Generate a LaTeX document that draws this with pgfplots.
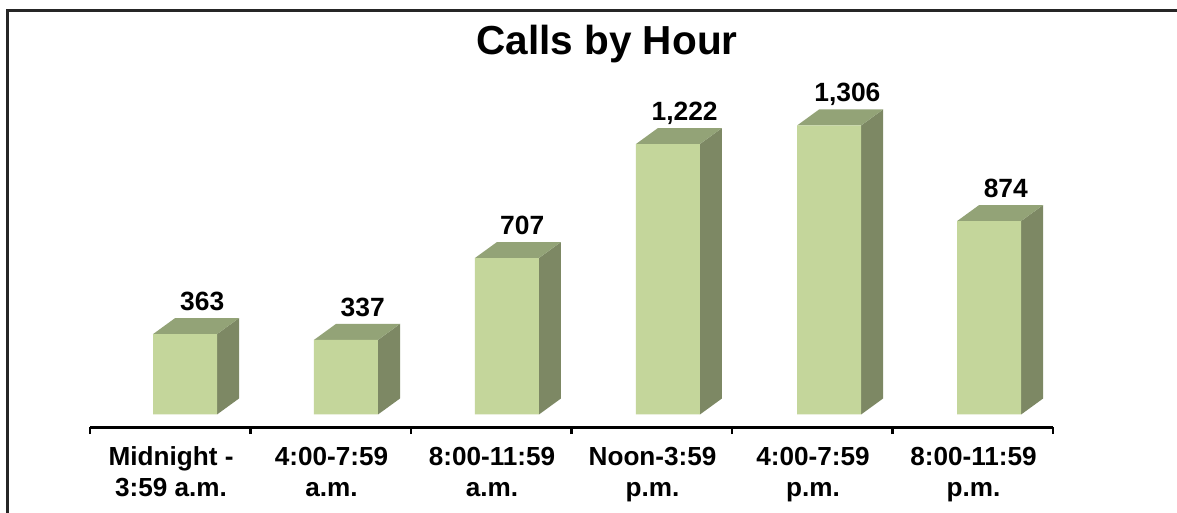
\documentclass[border=0pt]{standalone}
\usepackage{fontspec}
\setmainfont{Liberation Sans}
\usepackage{pgfplots}
\usepackage{pgfplotstable}
\pgfplotsset{compat=1.18}
\definecolor{front}{HTML}{C4D69B}
\definecolor{topf}{HTML}{93A377}
\definecolor{sidef}{HTML}{7D8864}
\definecolor{frameline}{HTML}{262626}
\pgfplotstableread{
x y
0.0919 363
1.095 337
2.098 707
3.101 1222
4.105 1306
5.102 874
}\fronts
\pgfplotstableread{
x y label
0.1990 435.3 363
1.1990 409.3 337
2.1930 779.3 707
3.2050 1294.3 1,222
4.2190 1378.3 1,306
5.2060 946.3 874
}\labels
\begin{document}
\begin{tikzpicture}
\useasboundingbox (0,0) rectangle (882.75pt,384pt);
\clip (0,0) rectangle (882.75pt,384pt);
\fill[white] (0,0) rectangle (882.75pt,384pt);
\draw[frameline,line width=2.2pt] (5.4pt,-2pt) -- (5.4pt,376.4pt) -- (885pt,376.4pt);
\begin{axis}[
  at={(67.5pt,63.4pt)}, anchor=south west,
  scale only axis, width=722.25pt, height=245.25pt,
  xmin=-0.5, xmax=5.5, ymin=-58.74, ymax=1418.9,
  axis x line*=bottom, axis y line=none,
  axis line style={line width=1.9pt,black},
  clip=false,
  xtick={0,1,2,3,4,5},
  xticklabels={{Midnight -\\3:59 a.m.},{4:00-7:59\\a.m.},{8:00-11:59\\a.m.},{Noon-3:59\\p.m.},{4:00-7:59\\p.m.},{8:00-11:59\\p.m.}},
  minor xtick={-0.5,0.5,1.5,2.5,3.5,4.5,5.5},
  major tick length=0pt, minor tick length=5pt,
  tick align=outside,
  minor tick style={line width=1.7pt,black},
  xticklabel style={align=center,font=\fontsize{19.6}{23.25}\selectfont\bfseries,text=black,yshift=-11pt,xshift=0.6pt},
  title={Calls by Hour},
  title style={at={(0.5368,1.116)},anchor=base,font=\fontsize{30.4}{34}\selectfont\bfseries,text=black},
]
% side faces
\addplot[draw=none,fill=sidef] coordinates {(0.2913,0) (0.4284,72.3) (0.4284,435.3) (0.2913,363)} -- cycle;
\addplot[draw=none,fill=sidef] coordinates {(1.2944,0) (1.4315,72.3) (1.4315,409.3) (1.2944,337)} -- cycle;
\addplot[draw=none,fill=sidef] coordinates {(2.2974,0) (2.4345,72.3) (2.4345,779.3) (2.2974,707)} -- cycle;
\addplot[draw=none,fill=sidef] coordinates {(3.3004,0) (3.4375,72.3) (3.4375,1294.3) (3.3004,1222)} -- cycle;
\addplot[draw=none,fill=sidef] coordinates {(4.3044,0) (4.4415,72.3) (4.4415,1378.3) (4.3044,1306)} -- cycle;
\addplot[draw=none,fill=sidef] coordinates {(5.3014,0) (5.4385,72.3) (5.4385,946.3) (5.3014,874)} -- cycle;
% top faces
\addplot[draw=none,fill=topf] coordinates {(-0.1075,363) (0.2913,363) (0.4284,435.3) (0.0296,435.3)} -- cycle;
\addplot[draw=none,fill=topf] coordinates {(0.8956,337) (1.2944,337) (1.4315,409.3) (1.0327,409.3)} -- cycle;
\addplot[draw=none,fill=topf] coordinates {(1.8986,707) (2.2974,707) (2.4345,779.3) (2.0357,779.3)} -- cycle;
\addplot[draw=none,fill=topf] coordinates {(2.9016,1222) (3.3004,1222) (3.4375,1294.3) (3.0387,1294.3)} -- cycle;
\addplot[draw=none,fill=topf] coordinates {(3.9056,1306) (4.3044,1306) (4.4415,1378.3) (4.0427,1378.3)} -- cycle;
\addplot[draw=none,fill=topf] coordinates {(4.9026,874) (5.3014,874) (5.4385,946.3) (5.0397,946.3)} -- cycle;
% front faces
\addplot[ybar,bar width=48pt,bar shift=0pt,draw=none,fill=front] table[x=x,y=y] {\fronts};
% value labels
\addplot[draw=none,mark=none,
  point meta=explicit symbolic,
  nodes near coords,
  nodes near coords style={anchor=base,font=\fontsize{19.8}{22}\selectfont\bfseries,text=black,yshift=5.8pt}]
  table[x=x,y=y,meta=label] {\labels};
\end{axis}
\end{tikzpicture}
\end{document}
